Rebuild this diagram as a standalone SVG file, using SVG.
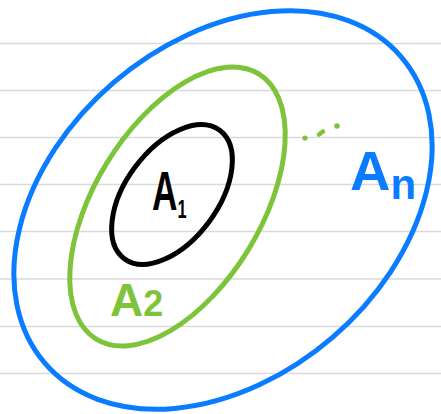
<svg xmlns="http://www.w3.org/2000/svg" width="441" height="414" viewBox="0 0 441 414">
<style>
.rule{stroke:#d9d9d9;stroke-width:1.6}
.set{fill:none;stroke-width:5}
.lbl{font-family:"Liberation Sans",Arial,sans-serif;font-weight:bold}
</style>
<rect width="441" height="414" fill="#fff"/>
<g id="paper">
<line class="rule" x1="0" y1="43.5" x2="441" y2="43.5"/>
<line class="rule" x1="0" y1="90.5" x2="441" y2="90.5"/>
<line class="rule" x1="0" y1="137.5" x2="441" y2="137.5"/>
<line class="rule" x1="0" y1="184.5" x2="441" y2="184.5"/>
<line class="rule" x1="0" y1="231.5" x2="441" y2="231.5"/>
<line class="rule" x1="0" y1="279" x2="441" y2="279"/>
<line class="rule" x1="0" y1="326.5" x2="441" y2="326.5"/>
<line class="rule" x1="0" y1="373.5" x2="441" y2="373.5"/>
</g>
<g id="An">
<ellipse class="set" stroke="#0a7cff" cx="223" cy="210" rx="235" ry="168" transform="rotate(-40.7 223 210)"/>
<text class="lbl" fill="#0a7cff" x="350" y="190" font-size="56">A<tspan font-size="42" dy="9">n</tspan></text>
</g>
<g id="A2">
<ellipse class="set" stroke="#7ec43a" cx="177.5" cy="206.5" rx="155.5" ry="83" transform="rotate(-58.5 177.5 206.5)"/>
<text class="lbl" fill="#7ec43a" x="110" y="316" font-size="46">A<tspan font-size="36">2</tspan></text>
<circle cx="305" cy="138" r="2.6" fill="#7ec43a"/>
<line x1="319" y1="134.5" x2="323" y2="131.5" stroke="#7ec43a" stroke-width="4.5" stroke-linecap="round"/>
<circle cx="337" cy="126" r="2.8" fill="#7ec43a"/>
</g>
<g id="A1">
<ellipse class="set" stroke="#000" cx="172" cy="194.5" rx="80" ry="46" transform="rotate(-53.4 172 194.5)"/>
<text class="lbl" fill="#000" x="241.3" y="210" font-size="56" transform="scale(0.63,1)">A<tspan font-size="26" dy="8">1</tspan></text>
</g>
<g id="connectors"/>
</svg>
